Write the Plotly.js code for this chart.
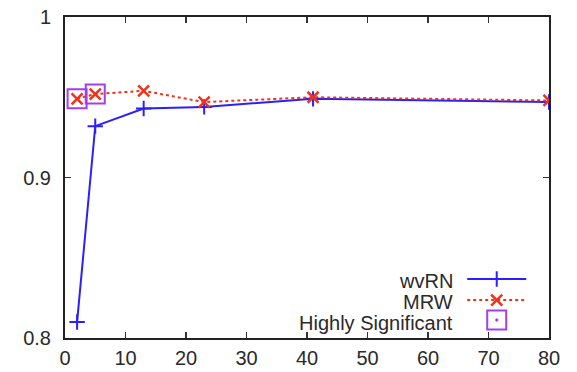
<!DOCTYPE html>
<html>
<head>
<meta charset="utf-8">
<script src="https://cdn.plot.ly/plotly-3.0.1.min.js"></script>
<style>html,body{margin:0;padding:0;background:#fff;}#chart{width:577px;height:372px;}</style>
</head>
<body>
<div id="chart"></div>
<script>
const xValues = [2, 5, 13, 23, 41, 80];
const wvrnValues = [0.810, 0.932, 0.943, 0.944, 0.949, 0.947];
const mrwValues = [0.949, 0.952, 0.954, 0.947, 0.950, 0.948];
const significantX = [2, 5];
const significantY = [0.949, 0.952];
const legendNames = ["wvRN", "MRW", "Highly Significant"];
const xTicks = [0, 10, 20, 30, 40, 50, 60, 70, 80];
const yTicks = [0.8, 0.9, 1];
const yTickText = ["0.8", "0.9", "1"];

const blue = "#2a1fff";
const red = "#f0321a";
const purple = "#a33df0";
const font = {family: "Liberation Sans, Arial, sans-serif", size: 20, color: "#2a2a2a"};

// legend rows (paper coordinates)
const rowY = [0.184, 0.118, 0.056];
const textY = [0.179, 0.113, 0.047];
const sampleX = [0.831, 0.892, 0.953];

const traces = [
  {x: xValues, y: wvrnValues, mode: "lines+markers", name: legendNames[0],
   line: {color: blue, width: 2}, marker: {symbol: "cross-thin", size: 11, line: {color: blue, width: 2}}},
  {x: xValues, y: mrwValues, mode: "lines+markers", name: legendNames[1],
   line: {color: red, width: 2, dash: "dot"}, marker: {symbol: "x-thin", size: 11, line: {color: red, width: 2.5}}},
  {x: significantX, y: significantY, mode: "markers", name: legendNames[2],
   marker: {symbol: "square-open", size: 19, color: purple, line: {color: purple, width: 2}}},
  // legend samples (hidden overlay axis in paper units)
  {x: sampleX, y: [rowY[0], rowY[0], rowY[0]], xaxis: "x2", yaxis: "y2", mode: "lines",
   line: {color: blue, width: 2}},
  {x: [sampleX[1]], y: [rowY[0]], xaxis: "x2", yaxis: "y2", mode: "markers",
   marker: {symbol: "cross-thin", size: 11, line: {color: blue, width: 2}}},
  {x: sampleX, y: [rowY[1], rowY[1], rowY[1]], xaxis: "x2", yaxis: "y2", mode: "lines",
   line: {color: red, width: 2, dash: "dot"}},
  {x: [sampleX[1]], y: [rowY[1]], xaxis: "x2", yaxis: "y2", mode: "markers",
   marker: {symbol: "x-thin", size: 11, line: {color: red, width: 2.5}}},
  {x: [sampleX[1]], y: [rowY[2]], xaxis: "x2", yaxis: "y2", mode: "markers",
   marker: {symbol: "square-open-dot", size: 19, color: purple, line: {color: purple, width: 2}}}
];

const layout = {
  width: 577, height: 372,
  margin: {l: 65, r: 28, t: 17, b: 34},
  paper_bgcolor: "#fff", plot_bgcolor: "#fff",
  font: font,
  showlegend: false,
  xaxis: {range: [0, 80], tickvals: xTicks, ticks: "inside", ticklen: 6, tickwidth: 1.2, tickcolor: "#333",
          mirror: "ticks", showline: true, linecolor: "#222", linewidth: 2, showgrid: false, zeroline: false,
          tickfont: font, ticklabelstandoff: 1},
  yaxis: {range: [0.8, 1], tickvals: yTicks, ticktext: yTickText, ticks: "inside", ticklen: 6, tickwidth: 1.2, tickcolor: "#333",
          mirror: "ticks", showline: true, linecolor: "#222", linewidth: 2, showgrid: false, zeroline: false,
          tickfont: font, ticklabelstandoff: 8},
  xaxis2: {range: [0, 1], overlaying: "x", visible: false, fixedrange: true},
  yaxis2: {range: [0, 1], overlaying: "y", visible: false, fixedrange: true},
  annotations: legendNames.map((t, i) => ({
    xref: "paper", yref: "paper", x: 0.803, y: textY[i], text: t, showarrow: false,
    xanchor: "right", yanchor: "middle", font: font, borderpad: 0
  }))
};

Plotly.newPlot("chart", traces, layout, {displayModeBar: false, staticPlot: true});
</script>
</body>
</html>
